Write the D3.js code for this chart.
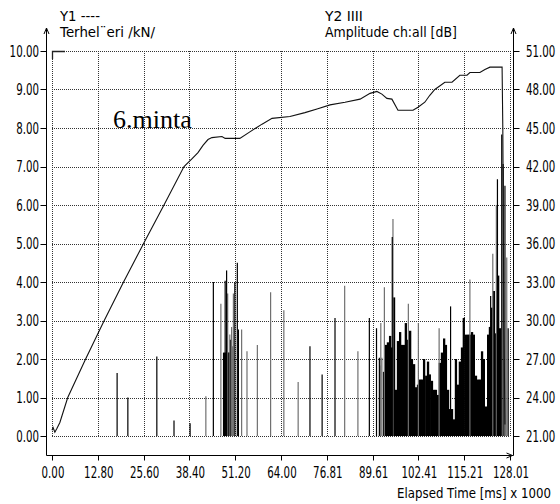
<!DOCTYPE html>
<html><head><meta charset="utf-8">
<script src="https://cdn.jsdelivr.net/npm/d3@7"></script>
<style>body{margin:0;background:#fff}svg{display:block}</style>
</head><body><svg id="c" width="560" height="504"></svg>
<script>
// ---- data ----
const xTicks = [0, 12.80, 25.60, 38.40, 51.20, 64.00, 76.81, 89.61, 102.41, 115.21, 128.01];
const loadTicks = [0, 1, 2, 3, 4, 5, 6, 7, 8, 9, 10];
const ampTicks = [21, 24, 27, 30, 33, 36, 39, 42, 45, 48, 51];

// Y1 load curve (kN) vs elapsed time (ms x 1000)
const loadTime  = [0, 0.3, 0.8, 1.4, 2.2, 4.4, 9.4, 14.6, 20.0, 25.6, 31.3, 36.9, 39.1, 40.8, 42.2, 43.6, 44.7, 47.5, 48.4, 52.5,
  55.3, 58.7, 61.5, 66.5, 70.7, 74.3, 77.7, 81.9, 86.1, 88.9, 90.8, 92.2, 93.6, 95.0, 96.7, 100.9, 102.3, 104.2, 105.6, 107.0,
  109.8, 111.8, 114.0, 116.0, 116.8, 119.6, 121.0, 122.4, 125.8, 126.0, 126.3, 126.6];
const loadValue = [0.15, 0.22, 0.10, 0.20, 0.35, 1.0, 2.0, 3.0, 4.0, 5.0, 6.0, 7.0, 7.2, 7.36, 7.55, 7.7, 7.75, 7.78, 7.73, 7.73,
  7.9, 8.1, 8.25, 8.3, 8.4, 8.5, 8.6, 8.67, 8.75, 8.9, 8.95, 8.88, 8.77, 8.75, 8.46, 8.46, 8.54, 8.67, 8.85, 9.0,
  9.19, 9.19, 9.37, 9.37, 9.44, 9.44, 9.52, 9.58, 9.58, 8.0, 3.0, 0.3];

// Y2 hits: amplitude (dB); kind: f = dense black, b = black spike, g = grey spike
const hitTime = [18.2, 21.2, 29.3, 34.1, 38.6, 43.0, 45.1, 47.2, 48.1, 48.4, 48.6, 48.8, 49.1, 49.3, 49.6, 49.7, 50.0, 50.2, 50.4, 50.7,
  51.1, 51.8, 52.1, 53.0, 54.5, 57.4, 61.1, 64.8, 68.8, 72.1, 75.5, 79.1, 81.8, 85.5, 88.7, 90.7, 91.5, 91.7, 91.9, 92.2,
  92.8, 92.9, 93.4, 93.9, 94.5, 95.0, 95.1, 95.3, 95.6, 96.1, 96.7, 97.3, 97.8, 98.4, 98.9, 99.5, 99.6, 100.1, 100.6, 101.2,
  101.7, 102.3, 102.4, 102.9, 103.4, 104.0, 104.6, 105.1, 105.6, 106.2, 106.8, 107.3, 107.9, 108.2, 108.4, 109.0, 109.6, 110.1, 110.7, 111.2,
  111.4, 111.8, 112.4, 112.9, 113.5, 114.0, 114.6, 115.1, 115.7, 116.3, 116.8, 116.8, 117.4, 117.9, 118.5, 119.1, 119.6, 120.2, 120.7, 121.3,
  121.9, 122.4, 122.6, 123.0, 123.2, 123.5, 124.1, 124.2, 124.5, 124.7, 125.2, 125.7, 126.1, 126.6, 127.1, 127.5];
const hitAmp = [25.9, 24.0, 27.2, 22.2, 22.0, 24.1, 33.0, 31.3, 27.5, 33.1, 27.5, 33.9, 32.1, 27.5, 27.5, 28.9, 28.5, 29.5, 28.0, 32.1,
  33.0, 34.5, 29.3, 29.3, 27.6, 28.1, 32.2, 30.8, 25.2, 28.0, 25.8, 30.2, 32.7, 27.6, 30.2, 29.4, 27.1, 26.5, 29.8, 27.1,
  26.0, 32.6, 28.1, 28.3, 28.8, 27.9, 36.5, 37.9, 31.8, 24.6, 28.4, 29.1, 28.1, 28.1, 29.8, 28.5, 31.3, 29.2, 27.0, 26.6,
  24.8, 25.0, 29.8, 25.4, 25.4, 27.0, 25.7, 26.8, 25.8, 25.3, 24.6, 24.6, 24.2, 29.4, 26.7, 27.5, 28.6, 28.1, 24.6, 23.1,
  31.1, 23.1, 22.3, 27.0, 25.0, 26.8, 27.9, 30.2, 28.9, 28.9, 28.9, 33.2, 29.1, 28.9, 25.7, 25.4, 25.4, 27.6, 27.0, 23.3,
  28.9, 29.5, 31.9, 31.0, 35.2, 32.3, 29.0, 39.0, 41.0, 33.5, 29.4, 44.5, 42.2, 40.5, 34.9, 29.4];
const hitKind = ['b','b','b','b','b','g','b','g','f','b','f','b','g','f','f','g','f','g','g','g',
  'b','b','b','g','g','g','g','g','g','b','b','b','g','g','b','b','b','g','g','g',
  'f','g','f','f','f','f','b','g','f','f','f','f','f','f','f','f','g','f','f','f',
  'f','f','g','f','f','f','f','f','f','f','f','f','f','g','f','f','f','f','f','f',
  'b','f','f','f','f','f','f','f','f','f','f','g','f','f','f','f','f','f','f','f',
  'f','f','b','f','g','f','f','g','b','f','f','b','b','b','g','b'];

// ---- chart ----
const svg = d3.select("#c");
const x = d3.scaleLinear().domain([0, 128.01]).range([52, 510]);
const yL = d3.scaleLinear().domain([0, 10]).range([436, 51]);
const yR = d3.scaleLinear().domain([21, 51]).range([436, 51]);
const FONT = "'DejaVu Sans', sans-serif";
const fmt = d3.format(".2f");
const numW = s => s.replace(/\./g, "").length * 6.6 + (s.includes(".") ? 3 : 0);

// text squeezed horizontally to a target width (narrow bitmap-like font)
function fitText(parent, txt, xx, yy, w, anchor, size) {
  const t = parent.append("text").attr("x", 0).attr("y", 0)
    .attr("text-anchor", anchor || "start").attr("font-family", FONT)
    .attr("font-size", size || 15).attr("fill", "#000").text(txt);
  const nat = t.node().getComputedTextLength();
  t.attr("transform", `translate(${xx},${yy}) scale(${w / nat},1)`);
  return t;
}

// grid
const grid = svg.append("g").attr("stroke", "#333").attr("stroke-dasharray", "1,1")
  .attr("shape-rendering", "crispEdges").attr("fill", "none");
loadTicks.forEach(v => grid.append("line").attr("x1", x(0)).attr("x2", x(128.01))
  .attr("y1", Math.round(yL(v)) + 0.5).attr("y2", Math.round(yL(v)) + 0.5));
xTicks.forEach(t => grid.append("line").attr("x1", Math.round(x(t)) + 0.5).attr("x2", Math.round(x(t)) + 0.5)
  .attr("y1", yL(10)).attr("y2", yL(0)));
svg.append("path").attr("d", `M${x(0)+0.5},${yL(10)+8}V${yL(10)+0.5}H${x(0)+13}`)
  .attr("stroke", "#222").attr("fill", "none").attr("stroke-width", 1.3);

// hits
const hits = hitTime.map((t, i) => ({t, a: hitAmp[i], k: hitKind[i]}));
const order = {f: 0, g: 1, b: 2};
hits.sort((p, q) => order[p.k] - order[q.k]);
svg.append("g").selectAll("line").data(hits).join("line")
  .attr("x1", d => x(d.t)).attr("x2", d => x(d.t))
  .attr("y1", yR(21)).attr("y2", d => yR(d.a))
  .attr("stroke", d => d.k === "g" ? "#707070" : "#000")
  .attr("stroke-width", d => d.k === "f" ? 2.3 : 1.2);

// load curve
const line = d3.line().x((d, i) => x(loadTime[i])).y(d => yL(d));
svg.append("path").datum(loadValue).attr("d", line)
  .attr("fill", "none").attr("stroke", "#111").attr("stroke-width", 1.1);

// axes
const axL = 46.5, axR = 513.5, axB = 455.5, axTop = 28;
const ax = svg.append("g").attr("stroke", "#000").attr("fill", "none").attr("stroke-width", 1);
ax.append("line").attr("x1", axL).attr("x2", axL).attr("y1", axTop).attr("y2", axB);
ax.append("line").attr("x1", axR).attr("x2", axR).attr("y1", axTop).attr("y2", axB);
ax.append("line").attr("x1", axL).attr("x2", axR).attr("y1", axB).attr("y2", axB);
[axL, axR].forEach(xx => ax.append("path").attr("d", `M${xx-2.5},${axTop+6}L${xx},${axTop}L${xx+2.5},${axTop+6}`));
ax.append("path").attr("d", `M${axR-7},${axB-2.5}L${axR-1},${axB}L${axR-7},${axB+2.5}`);

// left ticks
const gL = svg.append("g");
loadTicks.forEach(v => {
  const yy = Math.round(yL(v)) + 0.5;
  gL.append("line").attr("x1", axL - 6).attr("x2", axL).attr("y1", yy).attr("y2", yy).attr("stroke", "#000");
  fitText(gL, fmt(v), 39, yL(v) + 5.5, numW(fmt(v)), "end");
});

// right ticks
const gR = svg.append("g");
ampTicks.forEach(v => {
  const yy = Math.round(yR(v)) + 0.5;
  gR.append("line").attr("x1", axR).attr("x2", axR + 6).attr("y1", yy).attr("y2", yy).attr("stroke", "#000");
  fitText(gR, fmt(v), 526, yR(v) + 5.5, numW(fmt(v)), "start");
});

// bottom ticks
const gB = svg.append("g");
xTicks.forEach(t => {
  const xx = Math.round(x(t)) + 0.5;
  gB.append("line").attr("x1", xx).attr("x2", xx).attr("y1", axB).attr("y2", axB + 5).attr("stroke", "#000");
  fitText(gB, fmt(t), x(t) + 1, 478, numW(fmt(t)), "middle");
});

// titles
fitText(svg, "Y1 ----", 60, 21, 40, "start", 14);
fitText(svg, "Terhel\u00A8eri /kN/", 60, 37, 95, "start", 14);
fitText(svg, "Y2 IIII", 325, 21, 38, "start", 14);
fitText(svg, "Amplitude ch:all [dB]", 325, 37, 132, "start", 14);
fitText(svg, "Elapsed Time [ms] x 1000", 551, 498, 154, "end", 14);

svg.append("text").attr("x", 113).attr("y", 128).attr("font-family", "'Liberation Serif', 'Times New Roman', serif")
  .attr("font-size", 26).text("6.minta");
</script>
</body></html>
